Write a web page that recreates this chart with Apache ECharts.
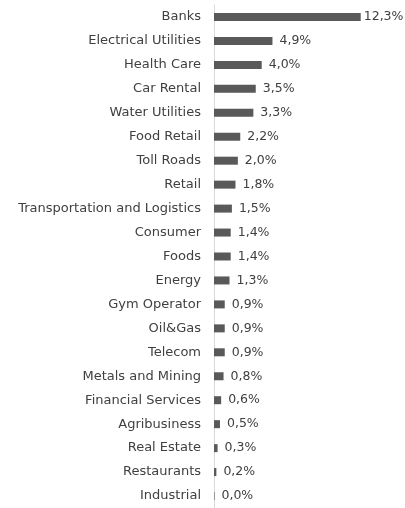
<!DOCTYPE html>
<html>
<head>
<meta charset="utf-8">
<script src="https://cdn.jsdelivr.net/npm/echarts@6/dist/echarts.min.js"></script>
<style>
html, body { margin: 0; padding: 0; background: #fff; }
#chart { width: 405px; height: 508px; }
</style>
</head>
<body>
<div id="chart"></div>
<script>
// sectors, top to bottom
var categories = ['Banks', 'Electrical Utilities', 'Health Care', 'Car Rental', 'Water Utilities',
    'Food Retail', 'Toll Roads', 'Retail', 'Transportation and Logistics', 'Consumer', 'Foods',
    'Energy', 'Gym Operator', 'Oil&Gas', 'Telecom', 'Metals and Mining', 'Financial Services',
    'Agribusiness', 'Real Estate', 'Restaurants', 'Industrial']
// weight in %
var values = [12.3, 4.9, 4.0, 3.5, 3.3, 2.2, 2.0, 1.8, 1.5, 1.4, 1.4, 1.3, 0.9, 0.9, 0.9, 0.8, 0.6, 0.5, 0.3, 0.2, 0.04]

var myChart = echarts.init(document.getElementById('chart'))

// banks label sits tight against its bar, the rest a bit further out
var barData = values.map(function (v, i) {
    return i === 0 ? { value: v, label: { distance: 3 } } : v
})

var option = {
    animation: false,
    grid: { left: 214, right: 24, top: 5, bottom: 0, containLabel: false },
    xAxis: {
        type: 'value',
        min: 0,
        max: 14,
        show: false
    },
    yAxis: {
        type: 'category',
        inverse: true,
        data: categories,
        axisLine: { show: true, lineStyle: { color: '#d9d9d9', width: 1 } },
        axisTick: { show: false },
        axisLabel: {
            margin: 13,
            fontFamily: 'DejaVu Sans',
            fontSize: 13,
            color: '#404040'
        }
    },
    series: [{
        type: 'bar',
        data: barData,
        barWidth: 8,
        itemStyle: { color: '#595959' },
        label: {
            show: true,
            position: 'right',
            distance: 7,
            fontFamily: 'DejaVu Sans',
            fontSize: 12.5,
            color: '#404040',
            formatter: function (p) { return p.value.toFixed(1).replace('.', ',') + '%' }
        }
    }]
}
myChart.setOption(option)
</script>
</body>
</html>
